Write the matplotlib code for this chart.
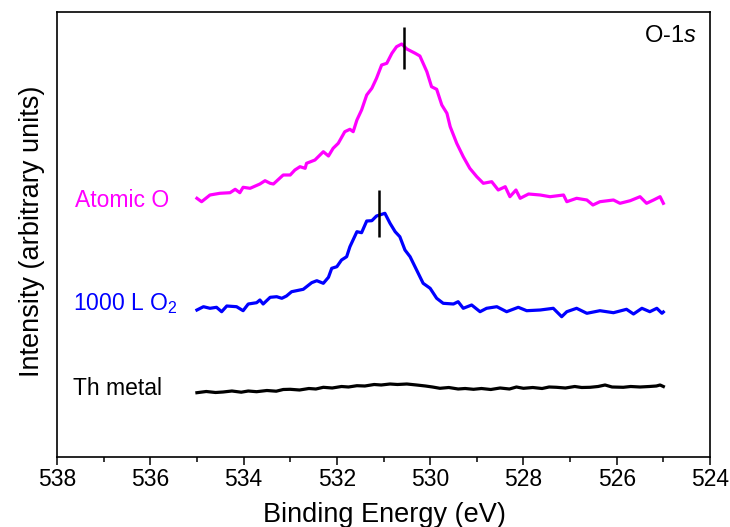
import matplotlib
matplotlib.use("Agg")
import matplotlib.pyplot as plt
from matplotlib.ticker import MultipleLocator

plt.rcParams['font.family'] = ['Liberation Sans', 'DejaVu Sans']
plt.rcParams['mathtext.fontset'] = 'custom'
plt.rcParams['mathtext.rm'] = 'Liberation Sans'
plt.rcParams['mathtext.it'] = 'Liberation Sans:italic'
plt.rcParams['mathtext.default'] = 'regular'

# ---------------- data (binding energy in eV, intensity in arbitrary units) -------------
atomic_be = [535.00, 534.90, 534.72, 534.51, 534.29, 534.18, 534.08, 534.01, 533.86, 533.65,
             533.54, 533.43, 533.36, 533.15, 533.00, 532.90, 532.79, 532.68, 532.65, 532.47,
             532.29, 532.18, 532.08, 531.97, 531.83, 531.72, 531.65, 531.57, 531.47, 531.36,
             531.25, 531.15, 531.04, 530.93, 530.82, 530.72, 530.61, 530.50, 530.32, 530.22,
             530.07, 529.97, 529.86, 529.75, 529.64, 529.57, 529.43, 529.29, 529.15, 529.00,
             528.86, 528.68, 528.54, 528.39, 528.29, 528.16, 528.07, 527.89, 527.64, 527.43,
             527.14, 527.07, 526.86, 526.64, 526.51, 526.36, 526.07, 525.93, 525.71, 525.50,
             525.36, 525.21, 525.07, 525.00]
atomic_int = [258.7, 255.3, 262.0, 263.7, 264.3, 267.7, 264.3, 269.7, 268.7, 273.0,
              276.3, 273.7, 273.0, 282.0, 282.0, 287.0, 290.3, 288.7, 293.7, 297.0,
              305.3, 301.0, 308.7, 313.7, 325.3, 327.7, 325.3, 337.0, 347.0, 362.0,
              368.7, 378.7, 392.0, 393.7, 403.7, 410.3, 413.0, 408.0, 403.7, 401.0,
              385.3, 370.3, 367.7, 352.0, 343.7, 330.3, 313.7, 300.3, 288.7, 280.3,
              273.7, 275.3, 267.0, 270.3, 260.3, 267.0, 258.7, 263.0, 262.0, 260.3,
              262.0, 255.3, 258.7, 257.0, 252.0, 255.3, 257.0, 253.7, 256.3, 260.3,
              253.7, 257.0, 260.3, 253.7]

o2_be = [535.00, 534.86, 534.72, 534.58, 534.47, 534.36, 534.15, 534.01, 533.90, 533.72,
         533.65, 533.58, 533.43, 533.29, 533.18, 533.08, 532.97, 532.72, 532.54, 532.43,
         532.29, 532.18, 532.11, 532.00, 531.90, 531.79, 531.72, 531.57, 531.47, 531.36,
         531.25, 531.15, 530.97, 530.86, 530.75, 530.65, 530.54, 530.43, 530.29, 530.15,
         530.00, 529.86, 529.72, 529.50, 529.40, 529.29, 529.11, 528.93, 528.79, 528.57,
         528.36, 528.11, 527.93, 527.64, 527.36, 527.18, 527.07, 526.86, 526.64, 526.36,
         526.07, 525.79, 525.64, 525.46, 525.29, 525.14, 525.03, 525.00]
o2_int = [147.0, 150.3, 148.7, 149.7, 145.3, 151.0, 150.3, 146.3, 153.0, 154.3,
          157.0, 153.0, 159.7, 160.3, 158.7, 161.0, 165.3, 167.7, 174.3, 176.3,
          173.7, 179.7, 188.7, 190.3, 197.0, 200.3, 210.3, 225.3, 224.3, 236.0,
          236.3, 241.0, 243.7, 233.7, 225.3, 220.3, 207.0, 200.3, 187.0, 173.7,
          168.7, 158.7, 153.7, 153.0, 155.3, 148.7, 152.0, 145.3, 148.7, 150.3,
          145.3, 149.7, 146.3, 147.0, 148.7, 140.3, 145.3, 148.7, 143.7, 146.3,
          144.3, 147.7, 143.0, 148.7, 145.3, 148.7, 143.7, 145.0]

metal_be = [535.00, 534.80, 534.60, 534.44, 534.25, 534.05, 533.90, 533.72, 533.50, 533.30,
            533.15, 533.00, 532.80, 532.60, 532.45, 532.29, 532.10, 531.90, 531.75, 531.57,
            531.40, 531.20, 531.05, 530.86, 530.70, 530.50, 530.29, 530.10, 529.95, 529.79,
            529.60, 529.40, 529.25, 529.07, 528.90, 528.70, 528.50, 528.30, 528.15, 528.00,
            527.80, 527.60, 527.45, 527.29, 527.10, 526.90, 526.75, 526.57, 526.40, 526.25,
            526.10, 525.86, 525.70, 525.50, 525.30, 525.15, 525.07, 525.00]
metal_int = [64.3, 65.5, 64.5, 65.0, 66.0, 64.8, 66.0, 65.3, 66.5, 65.8,
             67.5, 67.7, 67.0, 68.5, 68.0, 69.7, 69.0, 70.5, 70.0, 71.3,
             71.0, 72.5, 72.0, 73.0, 72.5, 73.0, 72.0, 71.0, 70.0, 68.7,
             69.5, 68.0, 68.5, 67.7, 68.5, 67.5, 69.0, 68.0, 70.0, 68.7,
             69.5, 68.5, 70.0, 69.7, 69.0, 70.5, 69.5, 69.7, 70.5, 72.0,
             70.0, 69.7, 70.5, 70.0, 70.5, 71.0, 72.0, 70.5]

peak_be = [530.56, 531.10]          # marked peak positions
peak_lo = [388, 220]
peak_hi = [430, 267]

series_labels = ["Atomic O", "1000 L O$_2$", "Th metal"]
xticks = [538, 536, 534, 532, 530, 528, 526, 524]

# ---------------- figure ----------------
fig = plt.figure(figsize=(7.3, 5.27), dpi=100)
ax = fig.add_axes([57/730, 70/527, 653/730, 445/527])

ax.plot(atomic_be, atomic_int, color='#FF00FF', lw=2.3)
ax.plot(o2_be, o2_int, color='#0000FF', lw=2.3)
ax.plot(metal_be, metal_int, color='black', lw=2.3)

ax.vlines(peak_be, peak_lo, peak_hi, color='black', lw=1.8)

ax.text(537.61, 250, series_labels[0], color='#FF00FF', fontsize=16.5, va='baseline', ha='left')
ax.text(537.66, 147, series_labels[1], color='#0000FF', fontsize=16.5, va='baseline', ha='left')
ax.text(537.66, 62, series_labels[2], color='black', fontsize=16.5, va='baseline', ha='left')
ax.text(0.980, 0.933, r'O-$\mathit{1s}$', transform=ax.transAxes, fontsize=17,
        ha='right', va='baseline')

ax.set_xlim(538, 524)
ax.set_ylim(0, 445)
ax.set_xticks(xticks)
ax.xaxis.set_minor_locator(MultipleLocator(1))
ax.set_yticks([])
ax.tick_params(axis='x', which='major', length=6, width=1.1, direction='out', labelsize=16.5, pad=2)
ax.tick_params(axis='x', which='minor', length=3.5, width=1.1, direction='out')
for s in ax.spines.values():
    s.set_linewidth(1.2)

ax.set_xlabel('Binding Energy (eV)', fontsize=19.5)
ax.set_ylabel('Intensity (arbitrary units)', fontsize=19.5)
ax.xaxis.set_label_coords(0.502, -0.100)
ax.yaxis.set_label_coords(-0.019, 0.508)

fig.savefig('out.png', dpi=100)
